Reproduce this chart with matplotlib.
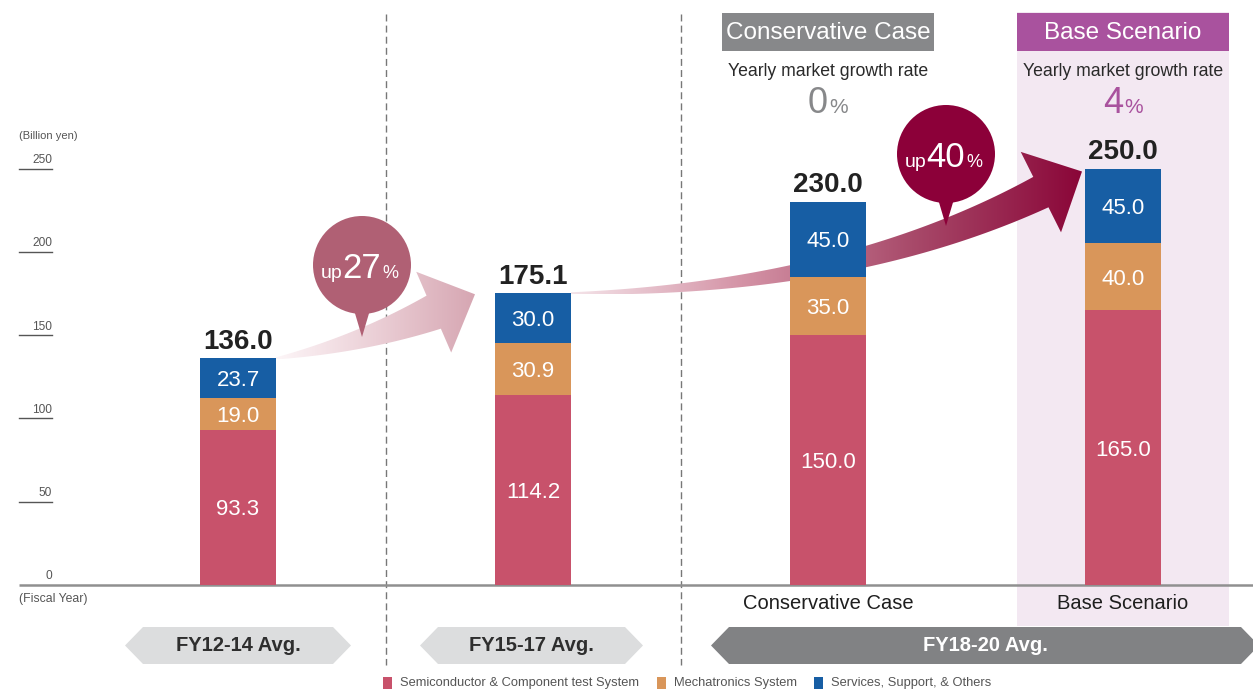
import matplotlib.pyplot as plt
import matplotlib.transforms as mtransforms
from matplotlib.patches import Polygon, Rectangle, Circle
from matplotlib.colors import LinearSegmentedColormap
import numpy as np

plt.rcParams['font.family'] = ['Liberation Sans', 'DejaVu Sans']

#-- chart values --------------------------------------------------------------
columns = ['FY12-14', 'FY15-17', 'Conservative Case', 'Base Scenario']
semiconductor = np.array([93.3, 114.2, 150.0, 165.0])
mechatronics = np.array([19.0, 30.9, 35.0, 40.0])
services = np.array([23.7, 30.0, 45.0, 45.0])
series_labels = ['Semiconductor & Component test System',
                 'Mechatronics System',
                 'Services, Support, & Others']
series_colors = ['#C8526B', '#D9965A', '#175EA4']
yticks = [0, 50, 100, 150, 200, 250]
periods = ['FY12-14 Avg.', 'FY15-17 Avg.', 'FY18-20 Avg.']
growth_up = ['27', '40']
scenarios = ['Conservative Case', 'Base Scenario']
market_growth = ['0', '4']
scenario_colors = ['#87888A', '#A9529E']
#------------------------------------------------------------------------------

W, H = 1253, 691
fig = plt.figure(figsize=(W/100, H/100), dpi=100)
ax = fig.add_axes([0, 0, 1, 1])
ax.set_axis_off()

#-- one column slot is 295 px wide, first column centred at 238 px,
#   zero line at 585 px from the top and 83.3 px per 50 billion yen
slot, first, base, per_unit = 295., 238., 585., 83.3/50
ax.set_xlim(-first/slot, (W - first)/slot)
ax.set_ylim(-(H - base)/per_unit, base/per_unit)
ax.set_autoscale_on(False)

#-- pixel coordinates counted from the top-left corner
PX = mtransforms.Affine2D().scale(1, -1).translate(0, H)
x_data_y_px = mtransforms.blended_transform_factory(ax.transData, PX)
x_px_y_data = mtransforms.blended_transform_factory(PX, ax.transData)

def to_px(x, y):
    return PX.inverted().transform(ax.transData.transform((x, y)))

def to_data(pts):
    return ax.transData.inverted().transform(PX.transform(pts))

x = np.arange(len(columns))
bar_w = 76/slot
centres = [to_px(xi, 0)[0] for xi in x]

#-- shaded band behind the base scenario, scenario headers ---------------------
band_l, band_r = centres[3] - 106, centres[3] + 106
ax.add_patch(Rectangle((band_l, 12), band_r - band_l, 614, transform=PX,
                       facecolor='#F3E8F2', edgecolor='none', zorder=0))
for i, name, col, g in zip([2, 3], scenarios, scenario_colors, market_growth):
    cx = centres[i]
    ax.add_patch(Rectangle((cx - 106, 13), 212, 38, transform=PX,
                           facecolor=col, edgecolor='none', zorder=1))
    ax.text(cx, 39, name, transform=PX, ha='center', va='baseline',
            color='white', fontsize=17.5)
    ax.text(cx, 76, 'Yearly market growth rate', transform=PX, ha='center',
            va='baseline', color='#2a2a2a', fontsize=12.7)
    ax.text(cx, 113, g, transform=PX, ha='right', va='baseline',
            color=col, fontsize=26)
    ax.text(cx + 1, 113, '%', transform=PX, ha='left', va='baseline',
            color=col, fontsize=15)
    ax.text(cx, 609, name, transform=PX, ha='center', va='baseline',
            color='#1e1e1e', fontsize=14.5)

#-- dashed separators between the periods
for xs in [0.5, 1.5]:
    ax.plot([xs, xs], [14, 665], transform=x_data_y_px, color='#777777',
            lw=1, ls=(0, (5, 3)), zorder=1)

#-- value axis drawn by hand: short tick rules with labels sitting on them
ax.plot([19, W], [0, 0], transform=x_px_y_data, color='#909090', lw=1.8,
        zorder=3, solid_capstyle='butt')
for v in yticks:
    if v:
        ax.plot([19, 52], [v, v], transform=x_px_y_data, color='#555555',
                lw=1, zorder=3)
    ax.annotate(str(v), (52, v), xycoords=x_px_y_data, xytext=(0, 4),
                textcoords='offset points', ha='right', va='baseline',
                fontsize=8.6, color='#555555')
ax.text(19, 139, '(Billion yen)', transform=PX, fontsize=8, color='#555555',
        va='baseline')
ax.text(19, 602, '(Fiscal Year)', transform=PX, fontsize=8.8, color='#555555',
        va='baseline')


def gradient_arrow(tail, tip, angle, reach, w_tail, w_head, head_w, head_len,
                   colors, zorder=2):
    """Curved, widening arrow filled with a left-to-right colour gradient."""
    d = np.array([np.cos(np.radians(angle)), -np.sin(np.radians(angle))])
    p2 = tip - head_len*d
    p1 = p2 - reach*d
    t = np.linspace(0, 1, 80)[:, None]
    curve = (1 - t)**2*tail + 2*t*(1 - t)*p1 + t**2*p2
    tang = 2*(1 - t)*(p1 - tail) + 2*t*(p2 - p1)
    tang /= np.linalg.norm(tang, axis=1, keepdims=True)
    side = np.column_stack([-tang[:, 1], tang[:, 0]])
    half = (w_tail + (w_head - w_tail)*t)/2
    n_end = side[-1]
    outline = np.vstack([curve + side*half,
                         p2 + n_end*head_w/2, tip, p2 - n_end*head_w/2,
                         (curve - side*half)[::-1]])
    patch = Polygon(outline, closed=True, transform=PX, facecolor='none',
                    edgecolor='none', zorder=zorder)
    ax.add_patch(patch)
    lo = to_data([[outline[:, 0].min(), outline[:, 1].max()]])[0]
    hi = to_data([[outline[:, 0].max(), outline[:, 1].min()]])[0]
    cmap = LinearSegmentedColormap.from_list('arrow', colors)
    im = ax.imshow(np.linspace(0, 1, 256)[None, :], cmap=cmap, aspect='auto',
                   extent=[lo[0], hi[0], lo[1], hi[1]], zorder=zorder,
                   interpolation='bilinear')
    im.set_clip_path(patch)


def bubble(cx, cy, num, color):
    r = 49
    ax.add_patch(Circle((cx, cy), r, transform=PX, facecolor=color,
                        edgecolor='none', zorder=6))
    ax.add_patch(Polygon([[cx - 8, cy + r - 4], [cx + 8, cy + r - 4],
                          [cx, cy + 72]], transform=PX, facecolor=color,
                         edgecolor='none', zorder=6))
    ax.text(cx, cy + 13, num, transform=PX, ha='center', va='baseline',
            color='white', fontsize=25, zorder=7)
    ax.text(cx - 19, cy + 13, 'up', transform=PX, ha='right', va='baseline',
            color='white', fontsize=14, zorder=7)
    ax.text(cx + 20, cy + 13, '%', transform=PX, ha='left', va='baseline',
            color='white', fontsize=13, zorder=7)


#-- stacked bars ---------------------------------------------------------------
bottom = np.zeros(len(columns))
for vals, color in zip([semiconductor, mechatronics, services], series_colors):
    ax.bar(x, vals, bar_w, bottom=bottom, color=color, zorder=4)
    for xi, b, v in zip(x, bottom, vals):
        ax.text(xi, b + v/2, f'{v:.1f}', ha='center', va='center_baseline',
                color='white', fontsize=16, zorder=5)
    bottom = bottom + vals
totals = bottom
for xi, t in zip(x, totals):
    ax.annotate(f'{t:.1f}', (xi, t), xytext=(0, 7), textcoords='offset points',
                ha='center', va='baseline', fontsize=20, fontweight='bold',
                color='#222222', zorder=5)

#-- growth arrows run from one bar top towards the next one
tail1 = to_px(x[0] + bar_w/2, totals[0])
tip1 = to_px(x[1] - bar_w/2, totals[1]) + np.array([-20, 1])
gradient_arrow(tail1, tip1, 23.4, 80, 2, 36, 88, 45,
               ['#FDF6F8', '#EBCFD6', '#D6A6B2'])
tail2 = to_px(x[1] + bar_w/2, totals[1])
tip2 = to_px(x[3] - bar_w/2, totals[3]) + np.array([-3, 3])
gradient_arrow(tail2, tip2, 26.6, 217, 2, 34, 90, 46,
               ['#F4E4E9', '#D493A6', '#A84A6A', '#8A0638'])

bubble(362, 265, growth_up[0], '#B06074')
bubble(946, 154, growth_up[1], '#8C0039')

#-- period banners -------------------------------------------------------------
def banner(left, right, text, face, tcolor, weight='bold'):
    top, bot, tip = 627, 664, 18
    mid = (top + bot)/2
    pts = [[left, mid], [left + tip, top], [right - tip, top], [right, mid],
           [right - tip, bot], [left + tip, bot]]
    ax.add_patch(Polygon(pts, transform=PX, facecolor=face, edgecolor='none',
                         zorder=1))
    ax.text((left + right)/2, mid, text, transform=PX, ha='center',
            va='center', color=tcolor, fontsize=14.5, fontweight=weight)

banner(centres[0] - 113, centres[0] + 113, periods[0], '#DCDDDE', '#2e2e2e')
banner(centres[1] - 113, centres[1] + 110, periods[1], '#DCDDDE', '#2e2e2e')
banner(711, W + 6, periods[2], '#818284', 'white')

#-- legend ---------------------------------------------------------------------
for lx, label, color in zip([383, 657, 814], series_labels, series_colors):
    ax.add_patch(Rectangle((lx, 677), 9, 12, transform=PX, facecolor=color,
                           edgecolor='none'))
    ax.text(lx + 17, 683, label, transform=PX, ha='left', va='center',
            fontsize=9.3, color='#555555')

fig.savefig('out.png', dpi=100)
